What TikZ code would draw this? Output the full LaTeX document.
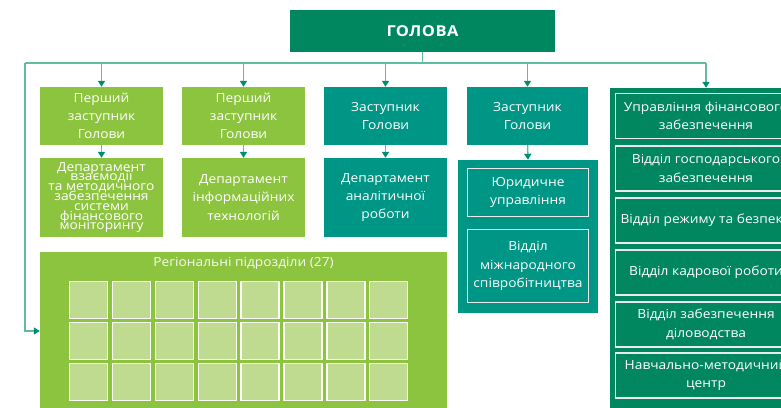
\documentclass[tikz,border=0pt]{standalone}
\usepackage{fontspec}
\setmainfont{Open Sans}[FakeStretch=1.1]
\usetikzlibrary{arrows.meta}
\newcommand\mytightlines{\lineskiplimit=-20pt\relax\lineskip=0pt\relax}
\definecolor{lgreen}{RGB}{141,196,63}
\definecolor{tealc}{RGB}{0,150,134}
\definecolor{dgreen}{RGB}{0,135,96}
\definecolor{cellc}{RGB}{190,219,144}
\definecolor{linec}{RGB}{95,188,160}
\definecolor{tipc}{RGB}{0,140,112}
\tikzset{
  box/.style={rectangle, inner sep=0pt, align=center, text=white, font=\fontsize{12.5}{18.3}\selectfont},
  lgbox/.style={box, fill=lgreen},
  tbox/.style={box, fill=tealc},
  dbox/.style={box, fill=dgreen},
  ibox/.style={box, draw=white!92!black, line width=1.3pt},
  cell/.style={rectangle, fill=cellc, draw=white!95!cellc, line width=1.3pt, minimum width=38pt, minimum height=37pt, inner sep=0pt},
  conn/.style={draw=linec, line width=1.5pt},
  arr/.style={conn, -{Triangle[length=6pt,width=7pt,color=tipc]}}
}
\begin{document}
\begin{tikzpicture}[x=1pt,y=-1pt]
\useasboundingbox (0,0) rectangle (781,407);
\clip (0,0) rectangle (781,407);
% head
\node[dbox, minimum width=265pt, minimum height=42pt, font=\fontsize{15}{18}\selectfont\bfseries\addfontfeatures{LetterSpace=3}] (head) at (422.5,31) {ГОЛОВА};
% column 1
\node[lgbox, minimum width=123pt, minimum height=79pt, font=\fontsize{12.5}{9.8}\selectfont\mytightlines] (d1) at (101.5,197.5) {Департамент\\взаємодії\\та методичного\\забезпечення\\системи\\фінансового\\моніторингу};
\node[lgbox, minimum width=123pt, minimum height=58pt] (p1) at (101.5,116) {Перший\\заступник\\Голови};
% column 2
\node[lgbox, minimum width=123pt, minimum height=58pt] (p2) at (243.5,116) {Перший\\заступник\\Голови};
\node[lgbox, minimum width=123pt, minimum height=79pt] (d2) at (243.5,197.5) {Департамент\\інформаційних\\технологій};
% column 3
\node[tbox, minimum width=123pt, minimum height=58pt] (z1) at (385.5,116) {Заступник\\Голови};
\node[tbox, minimum width=123pt, minimum height=79pt] (d3) at (385.5,197.5) {Департамент\\аналітичної\\роботи};
% column 4
\node[tbox, minimum width=121pt, minimum height=58pt] (z2) at (527.5,116) {Заступник\\Голови};
\node[tbox, minimum width=140pt, minimum height=153pt] (c4) at (528,236.5) {};
\node[ibox, minimum width=121pt, minimum height=48pt] (j1) at (528,192.5) {Юридичне\\управління};
\node[ibox, minimum width=121pt, minimum height=73pt] (j2) at (528,266) {Відділ\\міжнародного\\співробітництва};
% column 5
\node[dbox, minimum width=192pt, minimum height=322pt] (c5) at (706,249) {};
\node[ibox, minimum width=181pt, minimum height=45pt] (u1) at (706,116) {Управління фінансового\\забезпечення};
\node[ibox, minimum width=181pt, minimum height=45pt] (u2) at (706,168.5) {Відділ господарського\\забезпечення};
\node[ibox, minimum width=181pt, minimum height=45pt] (u3) at (706,220.5) {Відділ режиму та безпеки};
\node[ibox, minimum width=181pt, minimum height=45pt] (u4) at (706,272.5) {Відділ кадрової роботи};
\node[ibox, minimum width=181pt, minimum height=45pt] (u5) at (706,324.5) {Відділ забезпечення\\діловодства};
\node[ibox, minimum width=181pt, minimum height=45pt] (u6) at (706,375.5) {Навчально-методичний\\центр};
% regional
\node[lgbox, minimum width=407pt, minimum height=158pt] (reg) at (243.5,331) {};
\node[box, text=white!92!lgreen] (regt) at (243.5,263) {Регіональні підрозділи (27)};
\foreach \i in {0,...,7}{
  \foreach \j in {0,1,2}{
    \node[cell] (cell\i\j) at (88.5+42.9*\i, 300+41*\j) {};
  }
}
% connectors
\coordinate (busL) at (25,63);
\coordinate (busR) at (c5.north |- busL);
\draw[conn] (head.south) -- (head.south |- busL);
\draw[conn] (busL) -- (busR);
\foreach \n in {p1,p2,z1,z2,c5}{
  \draw[arr] (\n.north |- busL) -- (\n.north);
}
\draw[arr] (busL) |- (reg.west);
\draw[arr] (p1.south) -- (d1.north);
\draw[arr] (p2.south) -- (d2.north);
\draw[arr] (z1.south) -- (d3.north);
\draw[arr] (z2.south) -- (c4.north);
\end{tikzpicture}
\end{document}
